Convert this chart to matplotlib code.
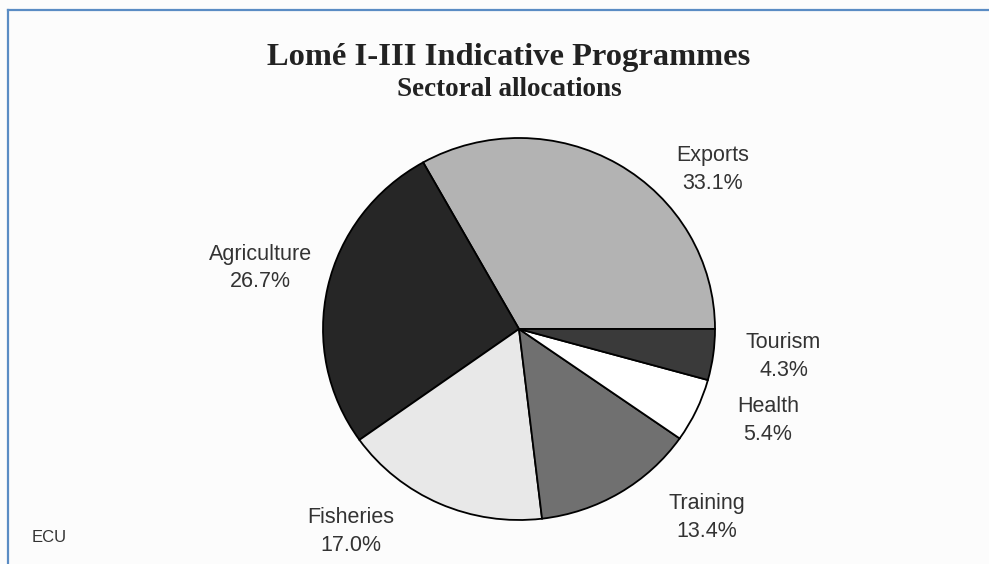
import matplotlib
matplotlib.use('Agg')
from matplotlib import pyplot as plt
from matplotlib.lines import Line2D

# sector shares of the Lomé I-III indicative programmes (%)
sectors = ['Exports', 'Agriculture', 'Fisheries', 'Training', 'Health', 'Tourism']
shares = [33.1, 26.7, 17.0, 13.4, 5.4, 4.3]
fills = ['#b3b3b3', '#262626', '#e8e8e8', '#707070', '#ffffff', '#3a3a3a']

# label anchor points around the pie (axes data units, radius = 1)
label_pos = {
    'Exports': (0.99, 0.836),
    'Agriculture': (-1.32, 0.32),
    'Fisheries': (-0.86, -1.06),
    'Training': (0.96, -0.986),
    'Health': (1.27, -0.48),
    'Tourism': (1.35, -0.144),
}

W, H = 989, 564
fig = plt.figure(figsize=(W / 100, H / 100), dpi=100)
fig.patch.set_facecolor('#fcfcfc')

# pie box in pixels: centre (519, 329), radii 196 x 191
cx, cy, rx, ry = 519, 329, 196, 191
ax = fig.add_axes([(cx - rx) / W, (H - cy - ry) / H, 2 * rx / W, 2 * ry / H])
ax.pie(shares, colors=fills, startangle=0, counterclock=True, radius=1,
       wedgeprops=dict(edgecolor='black', linewidth=1.3))
ax.set_aspect('auto')
ax.set_xlim(-1, 1)
ax.set_ylim(-1, 1)
ax.axis('off')

for name, val in zip(sectors, shares):
    x, y = label_pos[name]
    ax.text(x, y, f'{name}\n{val:.1f}%', ha='center', va='center',
            fontsize=15.5, family='Liberation Sans', color='#333333',
            linespacing=1.42, clip_on=False)

fig.text(0.5 * (267 + 750) / W, 1 - 57 / H, 'Lomé I-III Indicative Programmes',
         ha='center', va='center', fontsize=23.4, fontweight='bold',
         family='Liberation Serif', color='#222222')
fig.text(509 / W, 1 - 89 / H, 'Sectoral allocations',
         ha='center', va='center', fontsize=19.5, fontweight='bold',
         family='Liberation Serif', color='#222222')
fig.text(32 / W, 1 - 538 / H, 'ECU', ha='left', va='center',
         fontsize=12, family='Liberation Sans', color='#333333')

# blue frame along the top and left edge
blue = '#5a8cc4'
fig.add_artist(Line2D([8 / W, 1], [1 - 10 / H, 1 - 10 / H], color=blue, lw=1.6,
                      transform=fig.transFigure))
fig.add_artist(Line2D([8 / W, 8 / W], [0, 1 - 10 / H], color=blue, lw=1.6,
                      transform=fig.transFigure))

fig.savefig('out.png', dpi=100, facecolor=fig.get_facecolor())
